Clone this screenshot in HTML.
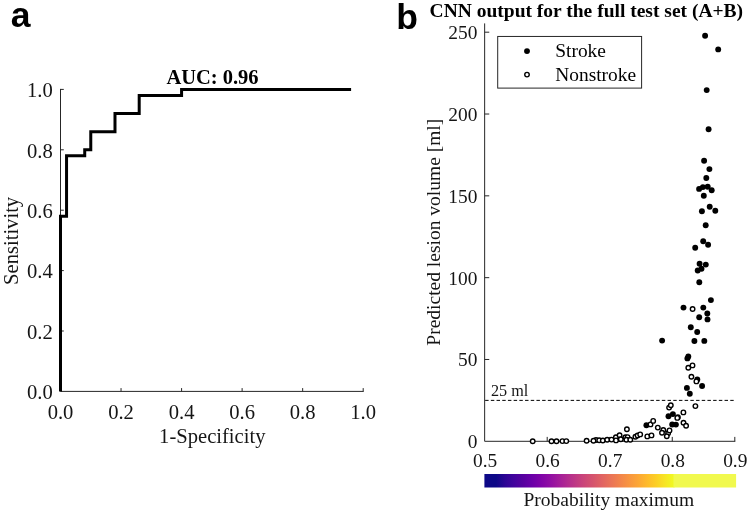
<!DOCTYPE html>
<html><head><meta charset="utf-8"><title>Figure</title>
<style>html,body{margin:0;padding:0;background:#fff;}svg{display:block;}text{font-family:"Liberation Serif","Times New Roman",serif;fill:#151515;}.pl{font-family:"Liberation Sans",Arial,sans-serif;font-weight:bold;fill:#000;}.tt{font-weight:bold;fill:#000;}.k{fill:#000;}</style></head><body>
<svg width="749" height="514" viewBox="0 0 749 514">
<rect width="749" height="514" fill="#fff"/>
<text class="pl" x="10.8" y="27.3" font-size="35.5">a</text>
<text class="pl" x="396.3" y="28.5" font-size="35.5">b</text>
<g stroke="#262626" stroke-width="1" fill="none">
<path d="M60.50 88.90V391.40H363.70"/>
<path d="M121.04 391.40v-3.3"/>
<path d="M60.50 331.00h3.3"/>
<path d="M181.58 391.40v-3.3"/>
<path d="M60.50 270.60h3.3"/>
<path d="M242.12 391.40v-3.3"/>
<path d="M60.50 210.20h3.3"/>
<path d="M302.66 391.40v-3.3"/>
<path d="M60.50 149.80h3.3"/>
<path d="M363.20 391.40v-3.3"/>
<path d="M60.50 89.40h3.3"/>
</g>
<text x="60.50" y="419.30" font-size="20.60" text-anchor="middle">0.0</text>
<text x="52.80" y="399.10" font-size="20.60" text-anchor="end">0.0</text>
<text x="121.04" y="419.30" font-size="20.60" text-anchor="middle">0.2</text>
<text x="52.80" y="338.70" font-size="20.60" text-anchor="end">0.2</text>
<text x="181.58" y="419.30" font-size="20.60" text-anchor="middle">0.4</text>
<text x="52.80" y="278.30" font-size="20.60" text-anchor="end">0.4</text>
<text x="242.12" y="419.30" font-size="20.60" text-anchor="middle">0.6</text>
<text x="52.80" y="217.90" font-size="20.60" text-anchor="end">0.6</text>
<text x="302.66" y="419.30" font-size="20.60" text-anchor="middle">0.8</text>
<text x="52.80" y="157.50" font-size="20.60" text-anchor="end">0.8</text>
<text x="363.20" y="419.30" font-size="20.60" text-anchor="middle">1.0</text>
<text x="52.80" y="97.10" font-size="20.60" text-anchor="end">1.0</text>
<text x="212.30" y="443.30" font-size="20.60" text-anchor="middle">1-Specificity</text>
<text transform="translate(17.80 240.90) rotate(-90)" font-size="20.60" text-anchor="middle">Sensitivity</text>
<text class="tt" x="212.50" y="84.30" font-size="20.50" text-anchor="middle">AUC: 0.96</text>
<path d="M60.50 391.40 L60.50 216.24 L66.55 216.24 L66.55 155.84 L84.72 155.84 L84.72 149.80 L90.77 149.80 L90.77 131.68 L114.99 131.68 L114.99 113.56 L139.20 113.56 L139.20 95.44 L181.58 95.44 L181.58 89.40 L351.09 89.40" fill="none" stroke="#000" stroke-width="3" stroke-linejoin="miter" stroke-linecap="butt"/>
<text class="tt" x="429.60" y="16.70" font-size="19.50">CNN output for the full test set (A+B)</text>
<g stroke="#262626" stroke-width="1" fill="none">
<path d="M484.65 23.40V441.30H735.30"/>
<path d="M547.19 441.30v-4.4"/>
<path d="M609.72 441.30v-4.4"/>
<path d="M672.26 441.30v-4.4"/>
<path d="M734.80 441.30v-4.4"/>
<path d="M484.65 359.48h4.6"/>
<path d="M484.65 277.66h4.6"/>
<path d="M484.65 195.84h4.6"/>
<path d="M484.65 114.02h4.6"/>
<path d="M484.65 32.20h4.6"/>
</g>
<text x="485.15" y="466.80" font-size="19.40" text-anchor="middle">0.5</text>
<text x="547.69" y="466.80" font-size="19.40" text-anchor="middle">0.6</text>
<text x="610.22" y="466.80" font-size="19.40" text-anchor="middle">0.7</text>
<text x="672.76" y="466.80" font-size="19.40" text-anchor="middle">0.8</text>
<text x="735.30" y="466.80" font-size="19.40" text-anchor="middle">0.9</text>
<text x="477.40" y="448.20" font-size="19.40" text-anchor="end">0</text>
<text x="477.40" y="366.38" font-size="19.40" text-anchor="end">50</text>
<text x="477.40" y="284.56" font-size="19.40" text-anchor="end">100</text>
<text x="477.40" y="202.74" font-size="19.40" text-anchor="end">150</text>
<text x="477.40" y="120.92" font-size="19.40" text-anchor="end">200</text>
<text x="477.40" y="39.10" font-size="19.40" text-anchor="end">250</text>
<text transform="translate(439.50 232.20) rotate(-90)" font-size="19.50" text-anchor="middle">Predicted lesion volume [ml]</text>
<text x="608.80" y="506.40" font-size="19.50" text-anchor="middle">Probability maximum</text>
<text x="491.00" y="395.70" font-size="16.20">25 ml</text>
<path d="M485.15 400.39H734.80" stroke="#000" stroke-width="1" stroke-dasharray="3.45 2.25" fill="none"/>
<rect x="497.7" y="36.45" width="143.9" height="51.65" fill="#fff" stroke="#262626" stroke-width="1"/>
<circle cx="527" cy="51.1" r="2.95" fill="#000"/>
<circle cx="527" cy="74.6" r="2.25" fill="#fff" stroke="#000" stroke-width="1.40"/>
<text x="555.3" y="57.1" font-size="19.40" class="k">Stroke</text>
<text x="555.3" y="81.1" font-size="19.40" class="k">Nonstroke</text>
<defs><linearGradient id="pg" gradientUnits="userSpaceOnUse" x1="496.00" x2="673.50" y1="0" y2="0">
<stop offset="0.0000" stop-color="#0d0887"/>
<stop offset="0.0500" stop-color="#2c0594"/>
<stop offset="0.1000" stop-color="#41049d"/>
<stop offset="0.1500" stop-color="#56019f"/>
<stop offset="0.2000" stop-color="#6a00a8"/>
<stop offset="0.2500" stop-color="#7e03a8"/>
<stop offset="0.3000" stop-color="#8f0da4"/>
<stop offset="0.3500" stop-color="#a11b9b"/>
<stop offset="0.4000" stop-color="#b12a90"/>
<stop offset="0.4500" stop-color="#bf3984"/>
<stop offset="0.5000" stop-color="#cc4778"/>
<stop offset="0.5500" stop-color="#d6556d"/>
<stop offset="0.6000" stop-color="#e16462"/>
<stop offset="0.6500" stop-color="#ea7457"/>
<stop offset="0.7000" stop-color="#f2844b"/>
<stop offset="0.7500" stop-color="#f89540"/>
<stop offset="0.8000" stop-color="#fca636"/>
<stop offset="0.8500" stop-color="#feba2c"/>
<stop offset="0.9000" stop-color="#fcce25"/>
<stop offset="0.9500" stop-color="#f7e425"/>
<stop offset="1.0000" stop-color="#f0f921"/>
</linearGradient></defs>
<rect x="484.40" y="474.00" width="190.10" height="13.50" fill="url(#pg)"/>
<rect x="673.50" y="474.00" width="62.60" height="13.50" fill="#f1f94e"/>
<circle cx="532.7" cy="441.2" r="2.25" fill="#fff" stroke="#000" stroke-width="1.40"/>
<circle cx="551.5" cy="441.3" r="2.25" fill="#fff" stroke="#000" stroke-width="1.40"/>
<circle cx="556.5" cy="441.3" r="2.25" fill="#fff" stroke="#000" stroke-width="1.40"/>
<circle cx="562.4" cy="441.1" r="2.25" fill="#fff" stroke="#000" stroke-width="1.40"/>
<circle cx="566.3" cy="441.1" r="2.25" fill="#fff" stroke="#000" stroke-width="1.40"/>
<circle cx="586.6" cy="440.7" r="2.25" fill="#fff" stroke="#000" stroke-width="1.40"/>
<circle cx="596.0" cy="440.0" r="2.25" fill="#fff" stroke="#000" stroke-width="1.40"/>
<circle cx="593.5" cy="440.7" r="2.25" fill="#fff" stroke="#000" stroke-width="1.40"/>
<circle cx="599.2" cy="440.2" r="2.25" fill="#fff" stroke="#000" stroke-width="1.40"/>
<circle cx="602.8" cy="440.5" r="2.25" fill="#fff" stroke="#000" stroke-width="1.40"/>
<circle cx="607.2" cy="439.8" r="2.25" fill="#fff" stroke="#000" stroke-width="1.40"/>
<circle cx="611.5" cy="439.6" r="2.25" fill="#fff" stroke="#000" stroke-width="1.40"/>
<circle cx="615.9" cy="437.3" r="2.25" fill="#fff" stroke="#000" stroke-width="1.40"/>
<circle cx="616.0" cy="440.4" r="2.25" fill="#fff" stroke="#000" stroke-width="1.40"/>
<circle cx="619.6" cy="435.3" r="2.25" fill="#fff" stroke="#000" stroke-width="1.40"/>
<circle cx="620.8" cy="439.2" r="2.25" fill="#fff" stroke="#000" stroke-width="1.40"/>
<circle cx="626.9" cy="429.2" r="2.25" fill="#fff" stroke="#000" stroke-width="1.40"/>
<circle cx="625.4" cy="437.2" r="2.25" fill="#fff" stroke="#000" stroke-width="1.40"/>
<circle cx="627.6" cy="437.1" r="2.25" fill="#fff" stroke="#000" stroke-width="1.40"/>
<circle cx="626.4" cy="439.7" r="2.25" fill="#fff" stroke="#000" stroke-width="1.40"/>
<circle cx="630.3" cy="439.8" r="2.25" fill="#fff" stroke="#000" stroke-width="1.40"/>
<circle cx="635.4" cy="436.7" r="2.25" fill="#fff" stroke="#000" stroke-width="1.40"/>
<circle cx="637.6" cy="435.5" r="2.25" fill="#fff" stroke="#000" stroke-width="1.40"/>
<circle cx="640.2" cy="434.4" r="2.25" fill="#fff" stroke="#000" stroke-width="1.40"/>
<circle cx="647.3" cy="436.4" r="2.25" fill="#fff" stroke="#000" stroke-width="1.40"/>
<circle cx="651.5" cy="435.4" r="2.25" fill="#fff" stroke="#000" stroke-width="1.40"/>
<circle cx="646.4" cy="425.3" r="2.95" fill="#000"/>
<circle cx="650.5" cy="424.4" r="2.25" fill="#fff" stroke="#000" stroke-width="1.40"/>
<circle cx="653.2" cy="420.9" r="2.25" fill="#fff" stroke="#000" stroke-width="1.40"/>
<circle cx="657.8" cy="427.6" r="2.25" fill="#fff" stroke="#000" stroke-width="1.40"/>
<circle cx="663.3" cy="430.0" r="2.25" fill="#fff" stroke="#000" stroke-width="1.40"/>
<circle cx="662.0" cy="432.8" r="2.25" fill="#fff" stroke="#000" stroke-width="1.40"/>
<circle cx="668.1" cy="433.3" r="2.25" fill="#fff" stroke="#000" stroke-width="1.40"/>
<circle cx="666.8" cy="436.2" r="2.25" fill="#fff" stroke="#000" stroke-width="1.40"/>
<circle cx="669.5" cy="430.4" r="2.25" fill="#fff" stroke="#000" stroke-width="1.40"/>
<circle cx="672.2" cy="424.5" r="2.95" fill="#000"/>
<circle cx="675.9" cy="424.6" r="2.95" fill="#000"/>
<circle cx="668.5" cy="416.2" r="2.95" fill="#000"/>
<circle cx="672.9" cy="414.1" r="2.95" fill="#000"/>
<circle cx="677.9" cy="417.2" r="2.25" fill="#fff" stroke="#000" stroke-width="1.40"/>
<circle cx="677.3" cy="417.9" r="2.25" fill="#fff" stroke="#000" stroke-width="1.40"/>
<circle cx="683.5" cy="422.8" r="2.25" fill="#fff" stroke="#000" stroke-width="1.40"/>
<circle cx="686.1" cy="425.7" r="2.25" fill="#fff" stroke="#000" stroke-width="1.40"/>
<circle cx="683.4" cy="412.4" r="2.25" fill="#fff" stroke="#000" stroke-width="1.40"/>
<circle cx="669.1" cy="407.6" r="2.25" fill="#fff" stroke="#000" stroke-width="1.40"/>
<circle cx="670.8" cy="405.2" r="2.25" fill="#fff" stroke="#000" stroke-width="1.40"/>
<circle cx="695.4" cy="406.1" r="2.25" fill="#fff" stroke="#000" stroke-width="1.40"/>
<circle cx="686.9" cy="387.9" r="2.95" fill="#000"/>
<circle cx="689.8" cy="393.8" r="2.95" fill="#000"/>
<circle cx="702.1" cy="386.0" r="2.95" fill="#000"/>
<circle cx="697.3" cy="379.5" r="2.95" fill="#000"/>
<circle cx="696.4" cy="381.4" r="2.25" fill="#fff" stroke="#000" stroke-width="1.40"/>
<circle cx="691.4" cy="376.8" r="2.25" fill="#fff" stroke="#000" stroke-width="1.40"/>
<circle cx="688.3" cy="367.8" r="2.25" fill="#fff" stroke="#000" stroke-width="1.40"/>
<circle cx="692.5" cy="365.4" r="2.25" fill="#fff" stroke="#000" stroke-width="1.40"/>
<circle cx="688.3" cy="356.4" r="2.95" fill="#000"/>
<circle cx="687.4" cy="358.4" r="2.95" fill="#000"/>
<circle cx="662.1" cy="340.6" r="2.95" fill="#000"/>
<circle cx="694.4" cy="341.0" r="2.95" fill="#000"/>
<circle cx="704.3" cy="340.9" r="2.95" fill="#000"/>
<circle cx="690.8" cy="327.3" r="2.95" fill="#000"/>
<circle cx="697.2" cy="332.0" r="2.95" fill="#000"/>
<circle cx="699.2" cy="317.3" r="2.95" fill="#000"/>
<circle cx="707.5" cy="319.4" r="2.95" fill="#000"/>
<circle cx="707.3" cy="313.5" r="2.95" fill="#000"/>
<circle cx="703.3" cy="307.6" r="2.95" fill="#000"/>
<circle cx="683.5" cy="307.6" r="2.95" fill="#000"/>
<circle cx="692.6" cy="309.0" r="2.25" fill="#fff" stroke="#000" stroke-width="1.40"/>
<circle cx="710.9" cy="300.1" r="2.95" fill="#000"/>
<circle cx="699.3" cy="282.2" r="2.95" fill="#000"/>
<circle cx="697.7" cy="270.5" r="2.95" fill="#000"/>
<circle cx="701.5" cy="268.8" r="2.95" fill="#000"/>
<circle cx="699.6" cy="263.7" r="2.95" fill="#000"/>
<circle cx="705.8" cy="264.6" r="2.95" fill="#000"/>
<circle cx="695.2" cy="247.7" r="2.95" fill="#000"/>
<circle cx="708.1" cy="244.7" r="2.95" fill="#000"/>
<circle cx="703.2" cy="241.3" r="2.95" fill="#000"/>
<circle cx="705.7" cy="225.3" r="2.95" fill="#000"/>
<circle cx="701.9" cy="211.3" r="2.95" fill="#000"/>
<circle cx="715.3" cy="210.8" r="2.95" fill="#000"/>
<circle cx="709.7" cy="206.7" r="2.95" fill="#000"/>
<circle cx="703.8" cy="195.7" r="2.95" fill="#000"/>
<circle cx="699.1" cy="188.9" r="2.95" fill="#000"/>
<circle cx="702.9" cy="187.1" r="2.95" fill="#000"/>
<circle cx="707.7" cy="186.7" r="2.95" fill="#000"/>
<circle cx="711.7" cy="190.3" r="2.95" fill="#000"/>
<circle cx="706.3" cy="178.0" r="2.95" fill="#000"/>
<circle cx="709.4" cy="169.1" r="2.95" fill="#000"/>
<circle cx="704.1" cy="160.7" r="2.95" fill="#000"/>
<circle cx="708.6" cy="129.3" r="2.95" fill="#000"/>
<circle cx="706.7" cy="90.1" r="2.95" fill="#000"/>
<circle cx="718.2" cy="49.4" r="2.95" fill="#000"/>
<circle cx="705.1" cy="35.7" r="2.95" fill="#000"/>
</svg></body></html>
